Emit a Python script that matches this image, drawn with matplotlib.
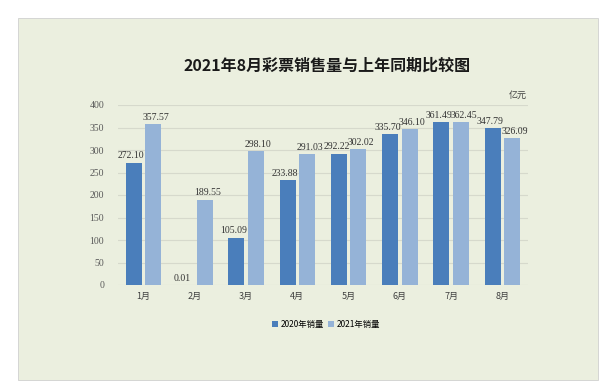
import matplotlib.pyplot as plt
import numpy as np
from matplotlib.patches import Rectangle

months = ["1月", "2月", "3月", "4月", "5月", "6月", "7月", "8月"]
sales_2020 = [272.10, 0.01, 105.09, 233.88, 292.22, 335.70, 361.49, 347.79]
sales_2021 = [357.57, 189.55, 298.10, 291.03, 302.02, 346.10, 362.45, 326.09]
yticks = [0, 50, 100, 150, 200, 250, 300, 350, 400]

bg = "#EBEFDF"
dark = "#4A7EBB"
light = "#95B3D7"
num_font = ["Liberation Serif", "Noto Sans CJK SC"]
cjk_font = ["Noto Sans CJK SC", "DejaVu Sans"]

fig = plt.figure(figsize=(6.13, 3.89), dpi=100)
fig.patch.set_facecolor("white")
fig.patches.append(Rectangle((18 / 613, 1 - 380 / 389), 580 / 613, 362 / 389,
                             transform=fig.transFigure, facecolor=bg,
                             edgecolor="#d0d0d0", linewidth=0.6, zorder=-1))

ax = fig.add_axes([118 / 613, 1 - 285 / 389, 410 / 613, 180 / 389])
ax.patch.set_alpha(0)

x = np.arange(len(months))
w = 0.31
off = 0.19
b1 = ax.bar(x - off, sales_2020, w, color=dark, label="2020年销量", zorder=3)
b2 = ax.bar(x + off, sales_2021, w, color=light, label="2021年销量", zorder=3)

# labels nudged outward a little, like the original
for rects, vals, dx in ((b1, sales_2020, -0.05), (b2, sales_2021, 0.05)):
    for r, v in zip(rects, vals):
        ax.text(r.get_x() + r.get_width() / 2 + dx, v + 5, f"{v:.2f}",
                ha="center", va="bottom", fontsize=7, family=num_font, color="#333333")

ax.set_xlim(-0.5, len(months) - 0.5)
ax.set_ylim(0, 400)
ax.set_yticks(yticks)
ax.set_xticks(x)
ax.set_xticklabels(months, family=cjk_font, fontsize=6.5, color="#404040")
ax.tick_params(axis="y", labelsize=7, colors="#595959", length=0, pad=10)
ax.tick_params(axis="x", length=0, pad=5)
for lab in ax.get_yticklabels():
    lab.set_family(num_font)
ax.grid(axis="y", color="#d6d9cc", linewidth=0.8, zorder=0)
for s in ax.spines.values():
    s.set_visible(False)

fig.text(327 / 613, 1 - 66 / 389, "2021年8月彩票销售量与上年同期比较图", ha="center", va="center",
         fontsize=11.5, fontweight="bold", family=cjk_font, color="#1a1a1a")
fig.text(518 / 613, 1 - 95 / 389, "亿元", ha="center", va="center",
         fontsize=6.5, family=cjk_font, color="#404040")

fig.legend(loc="center", bbox_to_anchor=(326 / 613, 1 - 324 / 389), ncol=2,
           frameon=False, handlelength=0.7, handleheight=0.7,
           handletextpad=0.3, columnspacing=0.5, prop={"family": cjk_font, "size": 6})

fig.savefig("out.png", dpi=100, facecolor="white")
